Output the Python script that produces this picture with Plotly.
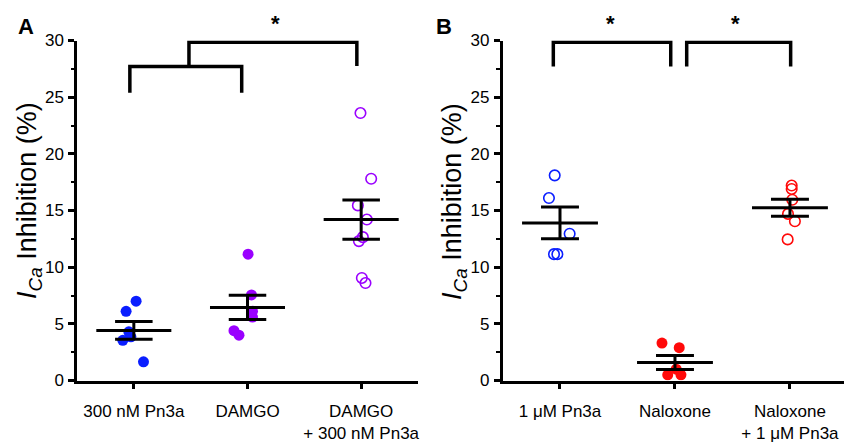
import plotly.graph_objects as go

W, H = 844, 443
YMAX = 30
FONT = "Liberation Sans, Arial, sans-serif"

# ---------------- data ----------------
cats_A = ["300 nM Pn3a", "DAMGO", "DAMGO<br>+ 300 nM Pn3a"]
cats_B = ["1 μM Pn3a", "Naloxone", "Naloxone<br>+ 1 μM Pn3a"]

A_pn3a = [7.0, 6.1, 4.3, 3.85, 3.55, 1.65]
A_damgo = [11.15, 7.55, 6.1, 5.6, 4.4, 4.0]
A_combo = [23.6, 17.8, 15.45, 14.2, 12.65, 12.3, 9.05, 8.6]

B_pn3a = [18.1, 16.1, 12.95, 11.15, 11.15]
B_nalox = [3.3, 2.9, 1.0, 0.5, 0.5]
B_combo = [17.2, 16.9, 15.95, 14.7, 14.05, 12.45]

# horizontal scatter of the dots (category units)
jit_A_pn3a = [0.02, -0.068, -0.044, -0.026, -0.097, 0.085]
jit_A_damgo = [0.005, 0.035, 0.044, 0.044, -0.119, -0.075]
jit_A_combo = [-0.006, 0.088, -0.029, 0.05, 0.015, -0.02, 0.006, 0.038]
jit_B_pn3a = [-0.046, -0.096, 0.084, -0.052, -0.023]
jit_B_nalox = [-0.113, 0.037, 0.011, -0.063, 0.052]
jit_B_combo = [0.015, 0.015, 0.02, -0.017, 0.043, -0.02]

mean_A = [4.42, 6.45, 14.2]
sem_A = [0.79, 1.07, 1.73]
mean_B = [13.9, 1.58, 15.24]
sem_B = [1.4, 0.62, 0.745]

# significance brackets: (x left, x right, y top, y left leg end, y right leg end)
brackets_A = [(0.965, 1.949, 27.7, 25.4, 25.4), (1.485, 2.962, 29.85, 27.7, 27.75)]
brackets_B = [(0.942, 1.963, 29.85, 27.7, 27.7), (2.102, 3.006, 29.85, 27.7, 27.7)]
stars_A = [2.242]
stars_B = [1.443, 2.522]

BLUE = "#0a1eff"
PURPLE = "#9a00ff"
RED = "#ff0a0a"

fig = go.Figure()


def add_group(values, jit, cat, color, filled, xa, ya):
    xs = [cat + j for j in jit]
    if filled:
        marker = dict(symbol="circle", size=11, color=color, line=dict(width=0))
    else:
        marker = dict(symbol="circle-open", size=10.5, color=color, line=dict(width=1.6, color=color))
    fig.add_trace(go.Scatter(x=xs, y=values, mode="markers", marker=marker,
                             xaxis=xa, yaxis=ya, showlegend=False, hoverinfo="y"))


add_group(A_pn3a, jit_A_pn3a, 1, BLUE, True, "x", "y")
add_group(A_damgo, jit_A_damgo, 2, PURPLE, True, "x", "y")
add_group(A_combo, jit_A_combo, 3, PURPLE, False, "x", "y")
add_group(B_pn3a, jit_B_pn3a, 1, BLUE, False, "x2", "y2")
add_group(B_nalox, jit_B_nalox, 2, RED, True, "x2", "y2")
add_group(B_combo, jit_B_combo, 3, RED, False, "x2", "y2")

shapes = []
LW = 3


def mean_sem(means, sems, xr, yr):
    for i, (m, s) in enumerate(zip(means, sems)):
        c = i + 1
        shapes.append(dict(type="line", xref=xr, yref=yr, x0=c - 0.33, x1=c + 0.33, y0=m, y1=m,
                           line=dict(color="black", width=LW)))
        shapes.append(dict(type="line", xref=xr, yref=yr, x0=c, x1=c, y0=m - s, y1=m + s,
                           line=dict(color="black", width=LW)))
        for yy in (m - s, m + s):
            shapes.append(dict(type="line", xref=xr, yref=yr, x0=c - 0.165, x1=c + 0.165, y0=yy, y1=yy,
                               line=dict(color="black", width=LW)))


mean_sem(mean_A, sem_A, "x", "y")
mean_sem(mean_B, sem_B, "x2", "y2")


def add_brackets(brs, xr, yr):
    for (xl, xrr, yt, yl, yrr) in brs:
        shapes.append(dict(type="path", xref=xr, yref=yr,
                           path=f"M{xl},{yl} L{xl},{yt} L{xrr},{yt} L{xrr},{yrr}",
                           line=dict(color="black", width=3.5)))


add_brackets(brackets_A, "x", "y")
add_brackets(brackets_B, "x2", "y2")

annotations = []
STAR_FONT = dict(size=22, family=FONT, color="black")
for sx in stars_A:
    annotations.append(dict(x=sx, y=YMAX, xref="x", yref="y", text="<b>*</b>", showarrow=False,
                            yanchor="bottom", yshift=2, font=STAR_FONT))
for sx in stars_B:
    annotations.append(dict(x=sx, y=YMAX, xref="x2", yref="y2", text="<b>*</b>", showarrow=False,
                            yanchor="bottom", yshift=2, font=STAR_FONT))

ytitle = "<i>I</i><sub><i>Ca</i></sub> Inhibition (%)"
for xp in (29 / W, 454 / W):
    annotations.append(dict(x=xp, y=1 - 201 / H, xref="paper", yref="paper", text=ytitle,
                            textangle=-90, showarrow=False, xanchor="center", yanchor="middle",
                            font=dict(size=27, family=FONT, color="black")))
for lab, xp in (("A", 26 / W), ("B", 444 / W)):
    annotations.append(dict(x=xp, y=1 - 26 / H, xref="paper", yref="paper", text=f"<b>{lab}</b>",
                            showarrow=False, xanchor="center", yanchor="middle",
                            font=dict(size=22, family=FONT, color="black")))

ydom = [1 - 380.5 / H, 1 - 40.5 / H]
axis_common = dict(showline=True, linewidth=2.5, linecolor="black", ticks="outside", ticklen=6,
                   tickwidth=2.5, tickcolor="black", showgrid=False, zeroline=False,
                   tickfont=dict(size=17, family=FONT, color="black"))
yaxis_common = dict(axis_common, range=[0, YMAX], tickvals=[0, 5, 10, 15, 20, 25, 30],
                    ticklabelstandoff=1,
                    minor=dict(ticks="outside", dtick=2.5, tick0=0, ticklen=3.5, tickwidth=2,
                               tickcolor="black", showgrid=False))
xaxis_common = dict(axis_common, tickvals=[1, 2, 3], ticklabelstandoff=7)

fig.update_layout(
    width=W, height=H, margin=dict(l=0, r=0, t=0, b=0, autoexpand=False),
    paper_bgcolor="white", plot_bgcolor="white",
    font=dict(family=FONT, color="black"),
    xaxis=dict(xaxis_common, domain=[77 / W, 418 / W], range=[0.5, 3.5],
               ticktext=cats_A, anchor="y"),
    yaxis=dict(yaxis_common, domain=ydom, anchor="x"),
    xaxis2=dict(xaxis_common, domain=[502.5 / W, 1.0], range=[0.5, 3.47],
                ticktext=cats_B, anchor="y2"),
    yaxis2=dict(yaxis_common, domain=ydom, anchor="x2"),
    shapes=shapes, annotations=annotations,
)

fig.write_html("out.html", config={"displayModeBar": False},
               post_script="document.body.style.margin='0px';document.body.style.overflow='hidden';")
